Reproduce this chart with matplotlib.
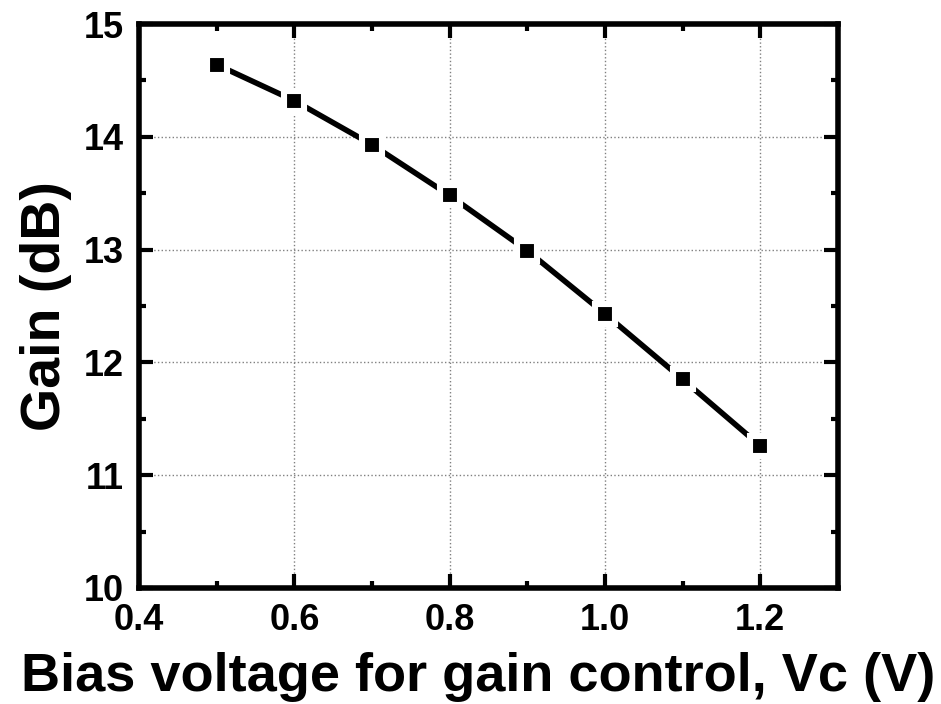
import matplotlib
matplotlib.use("Agg")
import matplotlib.pyplot as plt
from matplotlib.ticker import MultipleLocator

# Gain vs. bias voltage
bias_v = [0.5, 0.6, 0.7, 0.8, 0.9, 1.0, 1.1, 1.2]
gain_db = [14.64, 14.32, 13.93, 13.48, 12.99, 12.43, 11.85, 11.26]

plt.rcParams['font.family'] = ['Liberation Sans', 'DejaVu Sans']
plt.rcParams['font.weight'] = 'bold'

fig = plt.figure(figsize=(9.41, 7.04), dpi=100)
ax = fig.add_axes([0.1477, 0.1648, 0.7428, 0.8011])

ax.plot(bias_v, gain_db, color='black', lw=4, marker='s', ms=14,
        markerfacecolor='black', markeredgecolor='white', markeredgewidth=4.4,
        zorder=3)

ax.set_xlim(0.4, 1.3)
ax.set_ylim(10, 15)
ax.xaxis.set_major_locator(MultipleLocator(0.2))
ax.xaxis.set_minor_locator(MultipleLocator(0.1))
ax.yaxis.set_major_locator(MultipleLocator(1))
ax.yaxis.set_minor_locator(MultipleLocator(0.5))
ax.set_xticks([0.4, 0.6, 0.8, 1.0, 1.2])

ax.grid(True, which='major', color='gray', linestyle=':', linewidth=1)
ax.set_axisbelow(True)

for s in ax.spines.values():
    s.set_linewidth(4)

ax.tick_params(which='both', direction='in', top=True, right=True, width=3)
ax.tick_params(which='major', length=10, labelsize=26)
ax.tick_params(axis='x', which='major', pad=11)
ax.tick_params(axis='y', which='major', pad=11)
ax.tick_params(which='minor', length=5)
for lbl in ax.get_xticklabels() + ax.get_yticklabels():
    lbl.set_fontweight('bold')

ax.set_xlabel("Bias voltage for gain control, Vc (V)", fontsize=39,
              fontweight='bold')
ax.xaxis.set_label_coords(0.485, -0.113)
ax.xaxis.label.set_va('top')
ax.set_ylabel("Gain (dB)", fontsize=40, fontweight='bold', labelpad=8)

fig.savefig("out.png", dpi=100)
